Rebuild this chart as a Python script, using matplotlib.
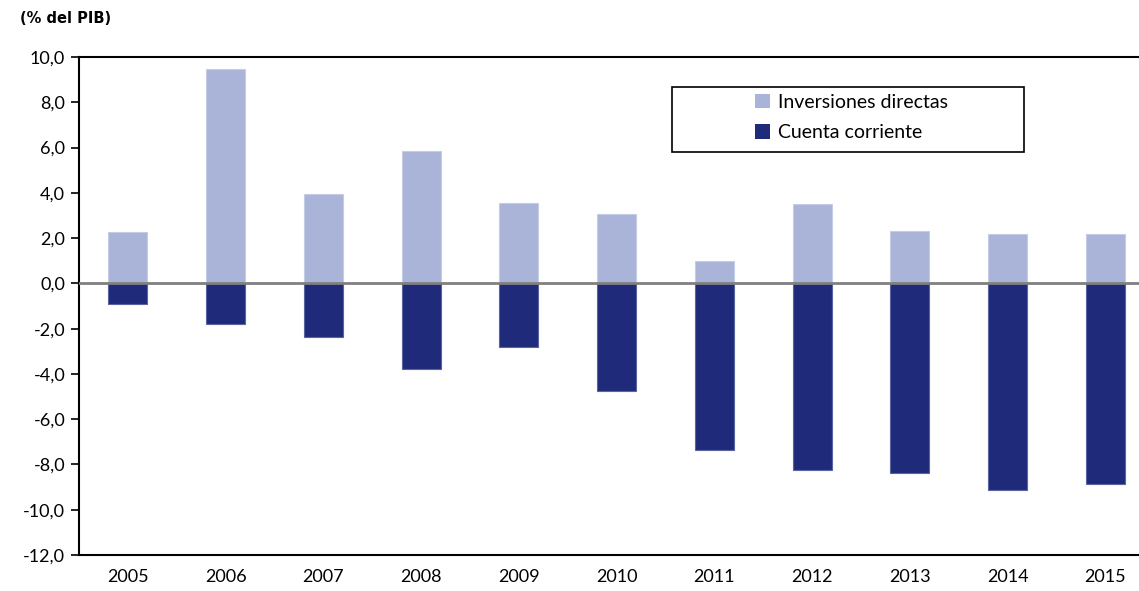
import numpy as np
import matplotlib.pyplot as plt
from matplotlib.patches import Patch, Rectangle

years = ['2005', '2006', '2007', '2008', '2009', '2010', '2011', '2012', '2013', '2014', '2015']
inversiones = [2.25, 9.45, 3.93, 5.83, 3.53, 3.05, 0.97, 3.49, 2.30, 2.16, 2.20]
cuenta = [-0.93, -1.81, -2.39, -3.80, -2.83, -4.77, -7.38, -8.26, -8.39, -9.14, -8.88]
yticks = np.arange(-12, 11, 2)

light = '#A9B4D8'
dark = '#1F2A7A'

plt.rcParams['font.family'] = ['Lato', 'DejaVu Sans']

fig = plt.figure(figsize=(11.39, 5.91), dpi=100)
ax = fig.add_axes([0.0694, 0.0609, 0.944, 0.8427])

x = np.arange(len(years))
ax.bar(x, inversiones, width=0.4, color=light, edgecolor='#C5CCE6', linewidth=0.8)
ax.bar(x, cuenta, width=0.4, color=dark, edgecolor='#5A64A0', linewidth=0.8)
ax.axhline(0, color='#808080', linewidth=2, zorder=3)

ax.set_xlim(-0.5, len(years) - 0.5)
ax.set_ylim(-12, 10)
ax.set_yticks(yticks)
ax.set_yticklabels([f'{v:.1f}'.replace('.', ',') for v in yticks], fontsize=13)
ax.set_xticks(x)
ax.set_xticklabels(years, fontsize=13)
ax.tick_params(axis='x', length=0, pad=10)
ax.tick_params(axis='y', length=6, width=1.2, direction='out', pad=4)

for side in ['left', 'bottom', 'top']:
    ax.spines[side].set_linewidth(1.5)
    ax.spines[side].set_color('black')
ax.spines['right'].set_visible(False)

# legend frame drawn separately (box is wider than its contents)
ax.add_patch(Rectangle((0.5516, 0.809), 0.3274, 0.1308, transform=ax.transAxes,
                       facecolor='white', edgecolor='black', linewidth=1.2,
                       clip_on=False, zorder=4))
handles = [Patch(facecolor=light, edgecolor='none', label='Inversiones directas'),
           Patch(facecolor=dark, edgecolor='none', label='Cuenta corriente')]
leg = ax.legend(handles=handles, loc='center left', bbox_to_anchor=(0.6288, 0.8785),
                fontsize=14, frameon=False, handlelength=0.75,
                handleheight=0.75, handletextpad=0.4, borderpad=0,
                labelspacing=0.7, borderaxespad=0)
leg.set_zorder(5)

fig.text(0.0176, 0.9695, '(% del PIB)', fontsize=10.5, fontweight='bold',
         family='DejaVu Sans', ha='left', va='center')

fig.savefig('out.png', dpi=100)
